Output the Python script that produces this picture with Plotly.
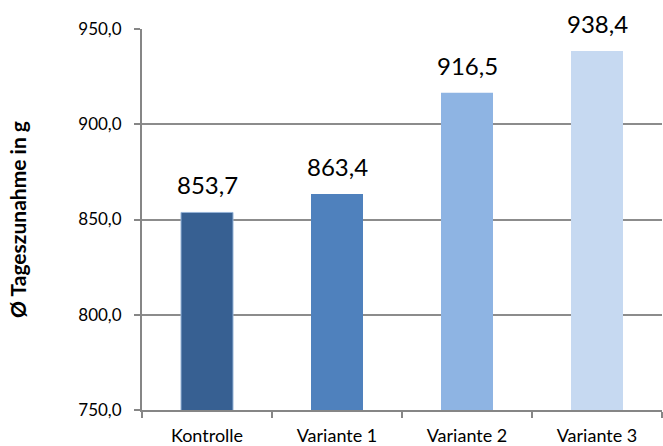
import plotly.graph_objects as go

categories = ["Kontrolle", "Variante 1", "Variante 2", "Variante 3"]
values = [853.7, 863.4, 916.5, 938.4]
colors = ["#376092", "#4F81BD", "#8EB4E3", "#C6D9F1"]
y_ticks = [750, 800, 850, 900, 950]
y_title = "Ø Tageszunahme in g"

FONT = "Lato"

fig = go.Figure()
fig.add_trace(go.Bar(
    x=categories, y=values,
    marker=dict(color=colors,
                line=dict(width=[1, 0, 0, 0], color="#95B3D7")),
    width=0.4,
    showlegend=False,
))

for c, v in zip(categories, values):
    fig.add_annotation(
        x=c, y=v, text=f"{v:.1f}".replace(".", ","),
        showarrow=False, yanchor="bottom", yshift=11,
        font=dict(family=FONT, size=24, color="#000000"),
    )

fig.update_layout(
    width=663, height=446,
    margin=dict(l=142, r=1, t=29, b=36),
    paper_bgcolor="white", plot_bgcolor="white",
    separators=",.",
    font=dict(family=FONT, size=17, color="#000000"),
    bargap=0.6,
)
fig.update_xaxes(
    type="category",
    showline=True, linecolor="#868686", linewidth=2,
    ticks="outside", tickson="boundaries", ticklen=6, tickcolor="#868686", tickwidth=2,
    tickfont=dict(family=FONT, size=18),
    ticklabelstandoff=8,
    showgrid=False,
    automargin=False,
)
fig.update_yaxes(
    range=[750, 950], tickvals=y_ticks, tickformat=".1f",
    showline=True, linecolor="#868686", linewidth=2,
    ticks="outside", ticklen=6, tickcolor="#868686", tickwidth=2,
    showgrid=True, gridcolor="#8C8C8C", gridwidth=1.5,
    tickfont=dict(family=FONT, size=17),
    ticklabelstandoff=9,
    title=dict(text=f"<b>{y_title}</b>", font=dict(family=FONT, size=21), standoff=46),
    zeroline=False,
    automargin=False,
)

fig.write_html("out.html")
